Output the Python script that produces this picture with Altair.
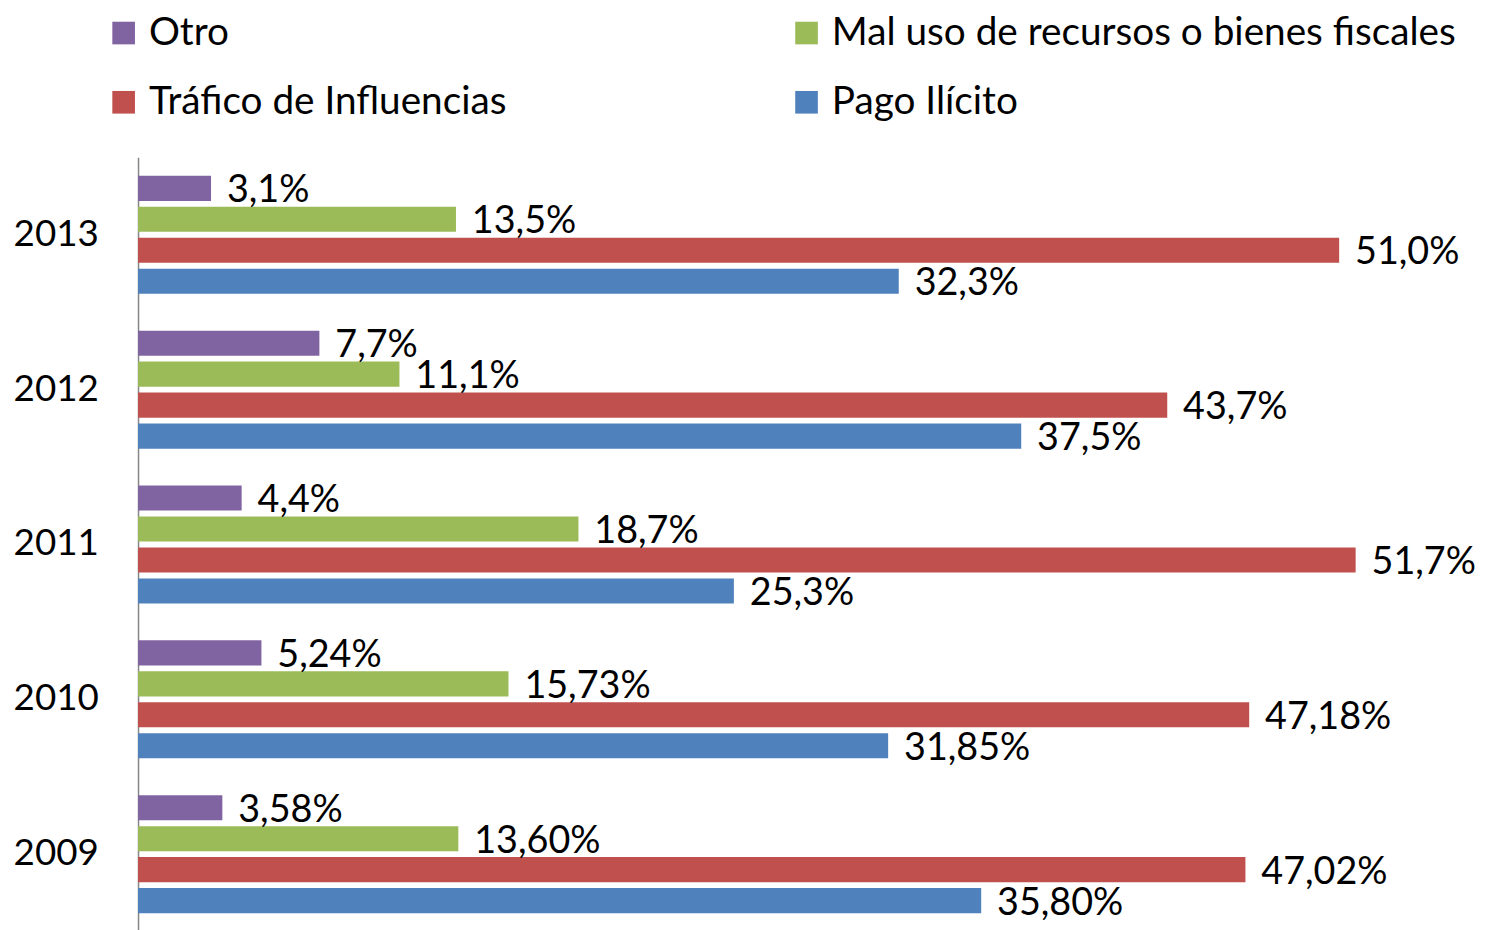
import altair as alt
import pandas as pd

years = ["2013", "2012", "2011", "2010", "2009"]
series = ["Otro", "Mal uso de recursos o bienes fiscales", "Tráfico de Influencias", "Pago Ilícito"]
colors = ["#8064A2", "#9BBB59", "#C0504D", "#4F81BD"]

otro = [3.1, 7.7, 4.4, 5.24, 3.58]
mal_uso = [13.5, 11.1, 18.7, 15.73, 13.60]
trafico = [51.0, 43.7, 51.7, 47.18, 47.02]
pago = [32.3, 37.5, 25.3, 31.85, 35.80]

otro_lbl = ["3,1%", "7,7%", "4,4%", "5,24%", "3,58%"]
mal_uso_lbl = ["13,5%", "11,1%", "18,7%", "15,73%", "13,60%"]
trafico_lbl = ["51,0%", "43,7%", "51,7%", "47,18%", "47,02%"]
pago_lbl = ["32,3%", "37,5%", "25,3%", "31,85%", "35,80%"]

rows = []
for s, vals, lbls in zip(series, [otro, mal_uso, trafico, pago],
                         [otro_lbl, mal_uso_lbl, trafico_lbl, pago_lbl]):
    for y, v, l in zip(years, vals, lbls):
        rows.append({"year": y, "serie": s, "value": v, "label": l})
df = pd.DataFrame(rows)

FONT = "Lato"

base = alt.Chart(df).encode(
    y=alt.Y("year:N", sort=years,
            scale=alt.Scale(paddingInner=0, paddingOuter=0),
            axis=alt.Axis(title=None, ticks=False, labelFontSize=37, labelFont=FONT,
                          labelColor="black", labelPadding=40, domainColor="#868686",
                          domainWidth=1.5, grid=False)),
    yOffset=alt.YOffset("serie:N", sort=series,
                        scale=alt.Scale(paddingInner=0.19, paddingOuter=0.595)),
)

bars = base.mark_bar().encode(
    x=alt.X("value:Q", scale=alt.Scale(domain=[0, 55.8], nice=False), axis=None),
    color=alt.Color("serie:N", sort=series,
                    scale=alt.Scale(domain=series, range=colors),
                    legend=alt.Legend(title=None, orient="none", legendX=-34, legendY=-145,
                                      columns=2, direction="horizontal",
                                      symbolType="square", symbolSize=520,
                                      symbolStrokeWidth=0, labelFontSize=39,
                                      labelFont=FONT, labelColor="black",
                                      labelOffset=6, columnPadding=282,
                                      rowPadding=30, labelLimit=1000)),
)

text = base.mark_text(align="left", baseline="middle", dx=16, dy=3,
                      fontSize=38, font=FONT, color="black").encode(
    x=alt.X("value:Q"),
    text="label:N",
)

chart = (bars + text).properties(
    width=1324, height=780,
    padding={"left": 5, "top": 2, "right": 5, "bottom": 5},
).configure_view(stroke=None)

chart.save("out.html", embed_options={"renderer": "svg", "actions": False})
